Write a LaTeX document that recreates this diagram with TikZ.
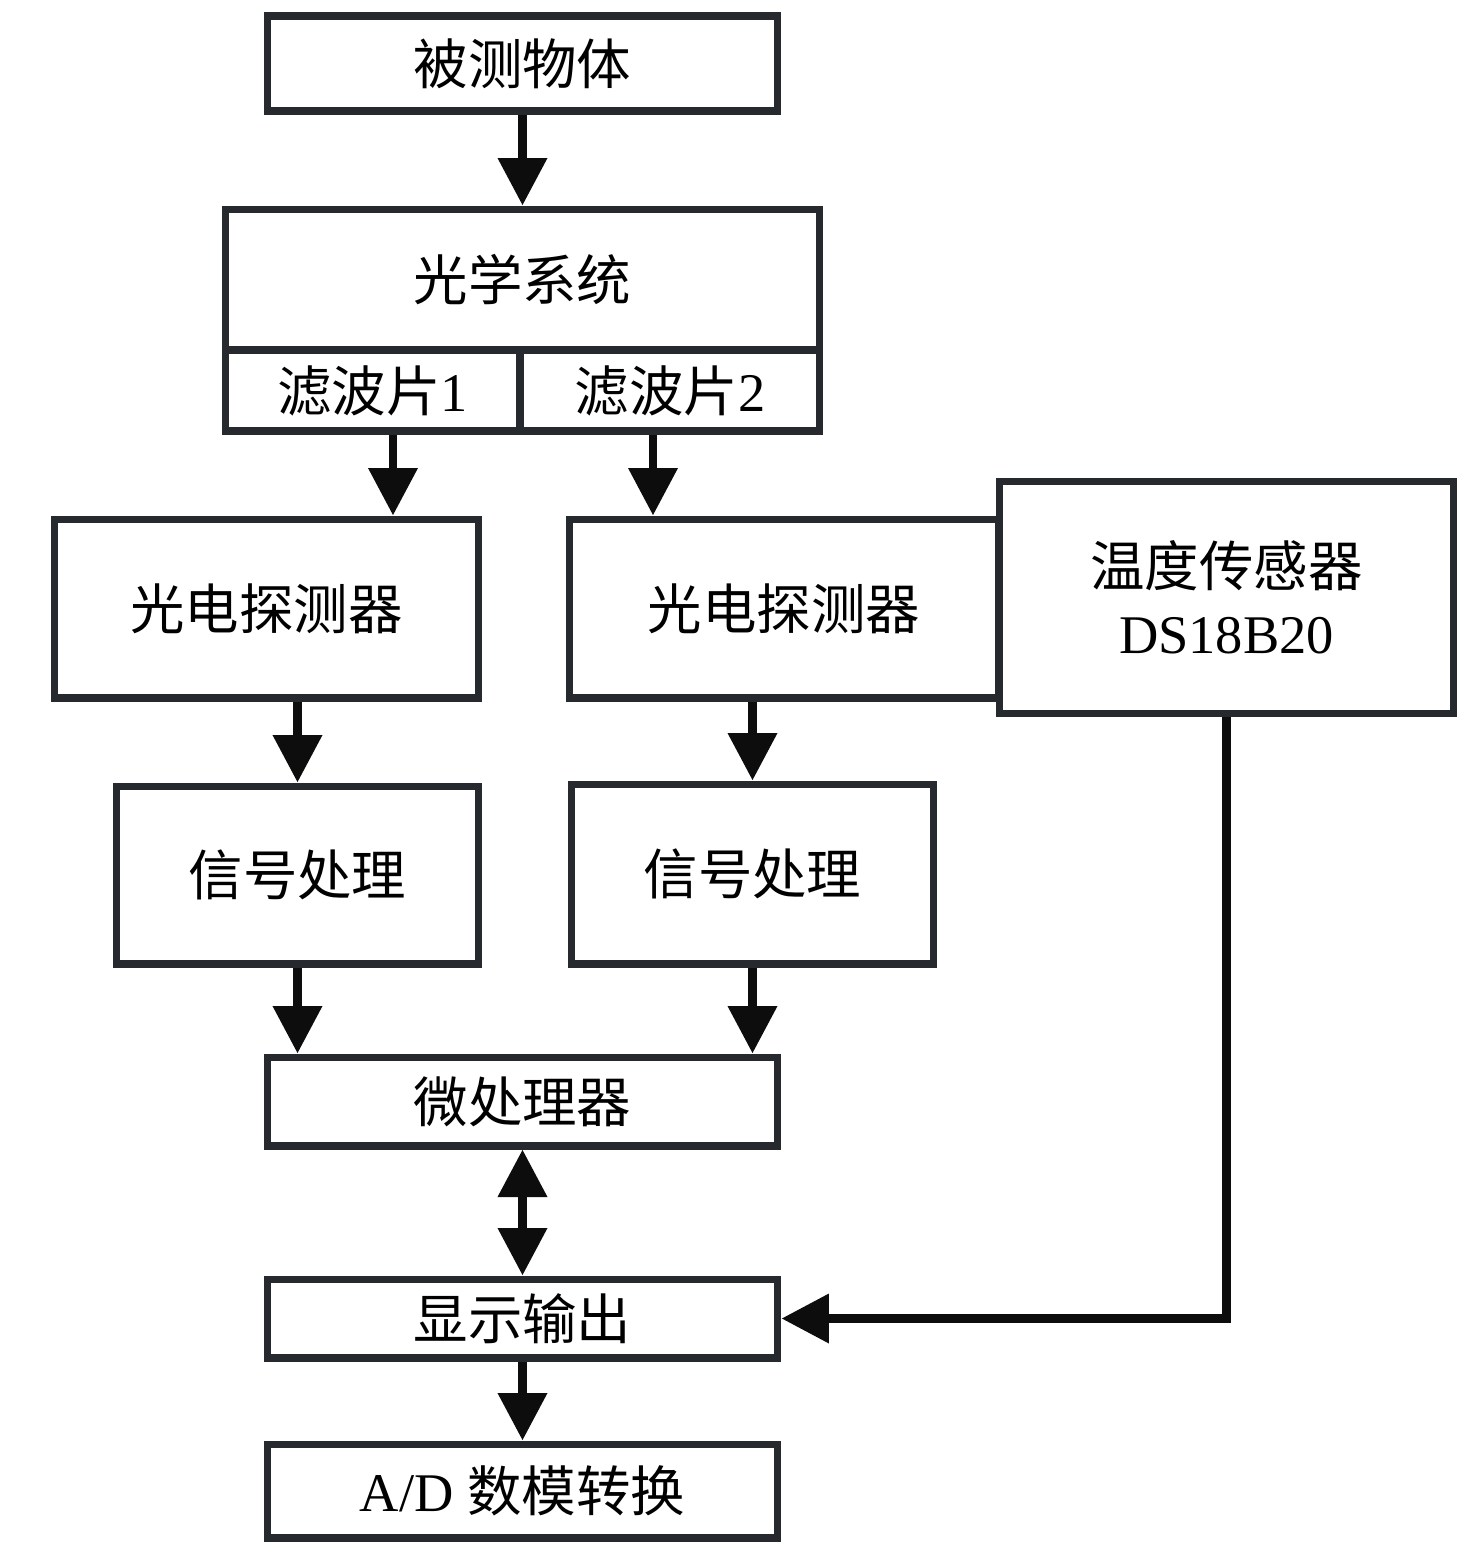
\documentclass[tikz,border=0pt]{standalone}
\usepackage{fontspec}
\setmainfont{Liberation Serif}
\newfontfamily\cjk{Noto Sans CJK SC}
\usetikzlibrary{arrows.meta}
\definecolor{edge}{RGB}{38,42,46}

\begin{document}
\begin{tikzpicture}[x=0.02cm,y=-0.02cm,font=\fontsize{31}{38}\selectfont,
  >={Triangle[length=0.95cm,width=0.95cm]},
  box/.style={draw=edge,line width=4pt,fill=white,align=center,inner sep=0pt},
  link/.style={->,line width=5pt,draw=black!95}]
  \useasboundingbox (0,0) rectangle (1476,1555);
  \node[box,minimum width=10.22cm,minimum height=1.9cm] (obj) at (522.5,63.5) {\cjk 被测物体};
  \node[box,minimum width=11.9cm,minimum height=2.82cm] (opt) at (522.5,279.5) {\cjk 光学系统};
  \node[box,minimum width=5.9cm,minimum height=1.62cm] (flt1) at (372.5,390.5) {{\cjk 滤波片}1};
  \node[box,minimum width=6cm,minimum height=1.62cm] (flt2) at (670,390.5) {{\cjk 滤波片}2};
  \node[box,minimum width=8.5cm,minimum height=3.58cm] (det1) at (266.5,608.5) {\cjk 光电探测器};
  \node[box,minimum width=8.6cm,minimum height=3.58cm] (det2) at (784,608.5) {\cjk 光电探测器};
  \node[box,minimum width=9.1cm,minimum height=4.66cm] (sens) at (1226.5,597.5) {{\cjk 温度传感器}\\DS18B20};
  \node[box,minimum width=7.26cm,minimum height=3.56cm] (sig1) at (297.5,875) {\cjk 信号处理};
  \node[box,minimum width=7.26cm,minimum height=3.6cm] (sig2) at (752.5,874) {\cjk 信号处理};
  \node[box,minimum width=10.22cm,minimum height=1.78cm] (mcu) at (522.5,1101.5) {\cjk 微处理器};
  \node[box,minimum width=10.22cm,minimum height=1.58cm] (disp) at (522.5,1318.5) {\cjk 显示输出};
  \node[box,minimum width=10.22cm,minimum height=1.88cm] (adc) at (522.5,1491) {A/D {\cjk 数模转换}};
  % signal path
  \draw[link] (obj) -- (opt);
  \draw[link] ([xshift=0.41cm]flt1.south) coordinate (f1) -- (f1 |- det1.north);
  \draw[link] ([xshift=-0.34cm]flt2.south) coordinate (f2) -- (f2 |- det2.north);
  \draw[link] (det1.south -| sig1.north) -- (sig1);
  \draw[link] (det2.south -| sig2.north) -- (sig2);
  \draw[link] (sig1) -- (sig1 |- mcu.north);
  \draw[link] (sig2) -- (sig2 |- mcu.north);
  \draw[link,<->] (mcu) -- (disp);
  \draw[link] (disp) -- (adc);
  \draw[link] (sens.south) |- (disp.east);
\end{tikzpicture}
\end{document}
